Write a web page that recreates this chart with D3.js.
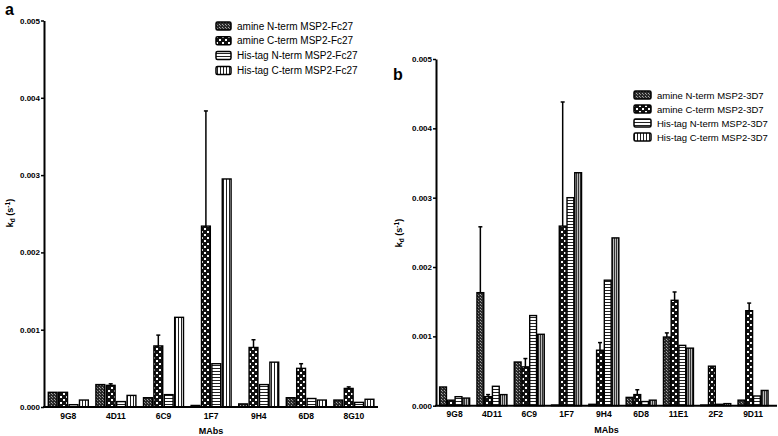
<!DOCTYPE html>
<html><head><meta charset="utf-8">
<script src="https://cdn.jsdelivr.net/npm/d3@7"></script>
<style>body{margin:0;background:#fff} text{font-family:"Liberation Sans",Arial,sans-serif}</style>
</head><body><svg id="c" width="778" height="436"></svg>
<script>
// ---------- DATA ----------
const seriesNamesA = ["amine N-term MSP2-Fc27","amine C-term MSP2-Fc27","His-tag N-term MSP2-Fc27","His-tag C-term MSP2-Fc27"];
const catsA = ["9G8","4D11","6C9","1F7","9H4","6D8","8G10"];
const aAmineN = [0.00019,0.00029,0.00012,0.00002,0.00004,0.00012,0.00009];
const aAmineC = [0.00019,0.00028,0.00079,0.00234,0.00077,0.00050,0.00024];
const aHisN   = [0.00003,0.00007,0.00016,0.00056,0.00029,0.00011,0.00006];
const aHisC   = [0.00009,0.00015,0.00116,0.00295,0.00058,0.00009,0.00010];
const aAmineNErr = [0,0,0,0,0,0,0];
const aAmineCErr = [0,0.00002,0.00014,0.00149,0.00010,0.00006,0.00002];

const seriesNamesB = ["amine N-term MSP2-3D7","amine C-term MSP2-3D7","His-tag N-term MSP2-3D7","His-tag C-term MSP2-3D7"];
const catsB = ["9G8","4D11","6C9","1F7","9H4","6D8","11E1","2F2","9D11"];
const bAmineN = [0.00027,0.00163,0.00063,0.00001,0.00002,0.00012,0.00099,0.00001,0.00008];
const bAmineC = [0.00008,0.00013,0.00056,0.00259,0.00080,0.00016,0.00152,0.00057,0.00137];
const bHisN   = [0.00013,0.00028,0.00130,0.00300,0.00181,0.00006,0.00087,0.00002,0.00014];
const bHisC   = [0.00011,0.00016,0.00103,0.00336,0.00242,0.00008,0.00083,0.00003,0.00022];
const bAmineNErr = [0,0.00095,0,0,0,0,0.00006,0,0];
const bAmineCErr = [0,0.00003,0.00012,0.00179,0.00011,0.00007,0.00012,0,0.00011];

const yTicks = [0,0.001,0.002,0.003,0.004,0.005];

// ---------- PATTERNS ----------
const svg = d3.select("#c");
const defs = svg.append("defs");
function pat(id,w,h,bg,draws){
  const p = defs.append("pattern").attr("id",id).attr("patternUnits","userSpaceOnUse").attr("width",w).attr("height",h);
  p.append("rect").attr("width",w).attr("height",h).attr("fill",bg);
  draws.forEach(d=>p.append("rect").attr("x",d[0]).attr("y",d[1]).attr("width",d[2]).attr("height",d[3]).attr("fill",d[4]));
}
pat("pAN",3,3,"#2a2a2a",[[0,0,1,1,"#aaa"],[1,1,1,1,"#888"]]);
pat("pAC",6,6,"#111",[[0,0,2,2,"#fff"],[3,3,2,2,"#fff"]]);
pat("pHN",3,3,"#fff",[[0,2,3,1,"#222"]]);
pat("pHC",3,3,"#fff",[[1,0,1,3,"#222"]]);
pat("pHCb",2,2,"#bbb",[[0,0,1,2,"#333"]]);
const fillsA = ["url(#pAN)","url(#pAC)","url(#pHN)","url(#pHC)"];
const fillsB = ["url(#pAN)","url(#pAC)","url(#pHN)","url(#pHCb)"];
const legFills = ["url(#pAN)","url(#pAC)","url(#pHN)","url(#pHC)"];

function panel(cfg){
  const g = svg.append("g");
  const y = d3.scaleLinear().domain([0,0.005]).range([cfg.y0,cfg.y1]);
  const x = d3.scaleBand().domain(cfg.cats).range([cfg.x0,cfg.x0+cfg.step*cfg.cats.length]).padding(0);
  const sub = d3.scaleBand().domain([0,1,2,3]).range([(cfg.step-cfg.gw)/2,(cfg.step+cfg.gw)/2]).paddingInner(cfg.pin);
  // bars
  cfg.series.forEach((vals,si)=>{
    g.selectAll(null).data(vals).enter().append("rect")
      .attr("x",(d,i)=>x(cfg.cats[i])+sub(si))
      .attr("y",d=>y(d))
      .attr("width",sub.bandwidth())
      .attr("height",d=>Math.max(0,y(0)-y(d)))
      .attr("fill",cfg.fills[si]).attr("stroke","#000").attr("stroke-width",1.4);
  });
  // error bars
  cfg.errs.forEach(([si,errs])=>{
    errs.forEach((e,i)=>{
      if(!e) return;
      const v = cfg.series[si][i];
      const cx = x(cfg.cats[i])+sub(si)+sub.bandwidth()/2;
      g.append("line").attr("x1",cx).attr("x2",cx).attr("y1",y(v)).attr("y2",y(v+e)).attr("stroke","#000").attr("stroke-width",1.5);
      g.append("line").attr("x1",cx-2).attr("x2",cx+2).attr("y1",y(v+e)).attr("y2",y(v+e)).attr("stroke","#000").attr("stroke-width",1.5);
    });
  });
  // y axis
  const ya = g.append("g").attr("transform",`translate(${cfg.yx},0)`)
    .call(d3.axisLeft(y).tickValues(yTicks).tickFormat(d3.format(".3f")).tickSize(3).tickSizeOuter(0).tickPadding(1));
  ya.select(".domain").attr("stroke-width",2);
  ya.selectAll(".tick line").attr("stroke-width",1.5);
  ya.selectAll("text").attr("font-size",8).attr("font-weight","bold").attr("fill","#000").attr("font-family","Liberation Sans, Arial, sans-serif");
  // x axis
  const xa = g.append("g").attr("transform",`translate(0,${cfg.y0})`)
    .call(d3.axisBottom(x).tickSize(0).tickPadding(cfg.xpad));
  xa.select(".domain").remove();
  xa.selectAll("text").attr("font-size",8.5).attr("font-weight","bold").attr("fill","#000").attr("font-family","Liberation Sans, Arial, sans-serif");
  g.append("line").attr("x1",cfg.yx-1).attr("x2",cfg.xEnd).attr("y1",cfg.y0).attr("y2",cfg.y0).attr("stroke","#000").attr("stroke-width",2);
  // axis titles
  g.append("text").attr("x",(cfg.yx+cfg.xEnd)/2).attr("y",cfg.y0+27).attr("text-anchor","middle")
    .attr("font-size",9).attr("font-weight","bold").text("MAbs");
  const yl = g.append("text").attr("transform",`translate(${cfg.ylx},${cfg.yly}) rotate(-90)`).attr("text-anchor","middle")
    .attr("font-size",9).attr("font-weight","bold");
  yl.append("tspan").text("k");
  yl.append("tspan").attr("font-size",6.5).attr("dy",2).text("d");
  yl.append("tspan").attr("dy",-2).text(" (s");
  yl.append("tspan").attr("font-size",6.5).attr("dy",-3.5).text("-1");
  yl.append("tspan").attr("dy",3.5).text(")");
  // panel letter
  g.append("text").attr("x",cfg.lx).attr("y",cfg.ly).attr("font-size",16).attr("font-weight","bold").text(cfg.letter);
  // legend
  const lg = g.append("g");
  cfg.names.forEach((n,i)=>{
    const yy = cfg.legY + i*cfg.legDy;
    lg.append("rect").attr("x",cfg.legX).attr("y",yy-4).attr("width",cfg.legW).attr("height",8).attr("rx",1.5)
      .attr("fill",legFills[i]).attr("stroke","#000").attr("stroke-width",1.5);
    lg.append("text").attr("x",cfg.legX+cfg.legW+6).attr("y",yy+3.5).attr("font-size",cfg.legFs).text(n);
  });
}

panel({cats:catsA, series:[aAmineN,aAmineC,aHisN,aHisC], fills:fillsA,
  errs:[[0,aAmineNErr],[1,aAmineCErr]], names:seriesNamesA,
  yx:44, x0:44.5, step:47.6, gw:40, pin:0.15, xEnd:378, y0:407, y1:20.5, xpad:6,
  ylx:13, yly:213, letter:"a", lx:5, ly:14.5,
  legX:216, legY:26, legDy:14.8, legW:15, legFs:10});

panel({cats:catsB, series:[bAmineN,bAmineC,bHisN,bHisC], fills:fillsB,
  errs:[[0,bAmineNErr],[1,bAmineCErr]], names:seriesNamesB,
  yx:436, x0:436, step:37.3, gw:30, pin:0.12, xEnd:777, y0:405.7, y1:59, xpad:5,
  ylx:402, yly:233, letter:"b", lx:393, ly:80,
  legX:634, legY:95, legDy:14, legW:17, legFs:9.5});
</script></body></html>
